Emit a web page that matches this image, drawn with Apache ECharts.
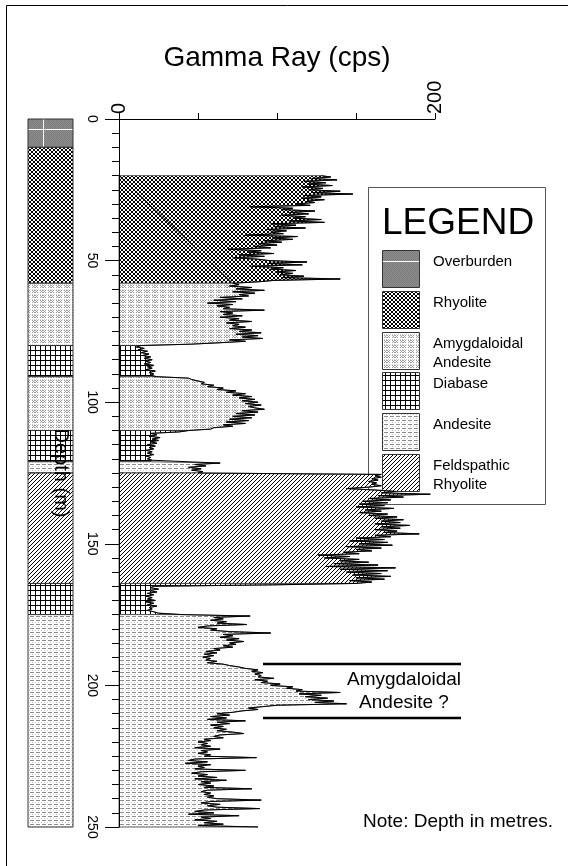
<!DOCTYPE html>
<html>
<head>
<meta charset="utf-8">
<title>Gamma Ray Log</title>
<script src="https://cdn.jsdelivr.net/npm/echarts@6/dist/echarts.min.js"></script>
<style>
  html, body { margin: 0; padding: 0; background: #fff; }
  #chart { width: 568px; height: 866px; }
</style>
</head>
<body>
<div id="chart"></div>
<script>
// Gamma-ray log (cps), one reading every 0.5 m from 20 m down to 250 m.
const logTop = 20;
const logStep = 0.5;
const gammaCps = [
  128,134,122,138,117,131,119,135,116,129, // 20 m
  120,140,123,148,118,128,116,130,119,124, // 25 m
  112,121, 83,110,104,124,108,120,103,118, // 30 m
  110,128,108,130, 96,112, 98,118, 94,106, // 35 m
   96,104, 80,113, 97,110, 92,103, 88,100, // 40 m
   86, 96, 69, 90, 82, 98, 76, 92, 72, 88, // 45 m
   95,119, 94,116, 84,104, 96,112, 99,110, // 50 m
  102,117,104,140, 98, 88, 72, 76, 70, 84, // 55 m
   74, 92, 72, 86, 76, 82, 64, 78, 60, 74, // 60 m
   56, 72, 62, 70, 66, 92, 64, 72, 66, 78, // 65 m
   64, 76, 70, 84, 68, 76, 72, 80, 70, 84, // 70 m
   76, 90, 74, 88, 78, 91, 70, 80, 64, 46, // 75 m
   14, 11, 16, 12, 18, 14, 19, 15, 20, 16, // 80 m
   21, 17, 20, 16, 22, 18, 21, 17, 23, 19, // 85 m
   22, 20, 24, 44, 46, 50, 54, 52, 60, 56, // 90 m
   66, 62, 74, 68, 80, 72, 84, 76, 86, 78, // 95 m
   88, 80, 90, 82, 86, 92, 78, 88, 74, 86, // 100 m
   72, 84, 70, 82, 68, 80, 66, 72, 60, 58, // 105 m
   44, 38, 20, 24, 19, 26, 21, 25, 20, 24, // 110 m
   18, 23, 19, 22, 17, 21, 18, 22, 17, 20, // 115 m
   18, 21, 20, 64, 48, 55, 44, 52, 46, 53, // 120 m
   50,166,162,166,160,164,158,163,160,166, // 125 m
  158,144,162,175,166,197,164,180,158,172, // 130 m
  154,170,152,168,150,174,156,166,152,170, // 135 m
  158,176,162,180,166,178,162,184,166,178, // 140 m
  162,176,168,190,162,172,150,168,146,170, // 145 m
  152,173,144,166,150,160,142,152,126,146, // 150 m
  130,152,140,158,136,164,131,175,140,170, // 155 m
  144,166,148,172,150,168,146,160,150, 97, // 160 m
   22, 20, 25, 19, 24, 18, 22, 17, 21, 18, // 165 m
   23, 17, 22, 18, 24, 19, 21, 18, 22, 25, // 170 m
   40, 83, 60, 66, 58, 68, 62, 81, 56, 50, // 175 m
   62, 58, 70, 96, 66, 72, 64, 76, 68, 79, // 180 m
   70, 74, 66, 72, 60, 64, 55, 62, 54, 60, // 185 m
   53, 58, 55, 62, 56, 66, 70, 76, 80, 88, // 190 m
   84, 91, 86, 90, 88, 98, 86, 94, 90,102, // 195 m
   96,110,106,116,112,140,114,128,118,132, // 200 m
  120,136,124,144,100, 91, 82, 88, 78, 72, // 205 m
   62, 70, 58, 68, 56, 80, 62, 70, 58, 66, // 210 m
   60, 68, 62, 72, 79, 64, 60, 66, 54, 58, // 215 m
   50, 56, 52, 58, 48, 64, 52, 56, 50, 58, // 220 m
   54, 87, 48, 44, 56, 42, 58, 50, 54, 48, // 225 m
   80, 52, 46, 56, 50, 62, 48, 68, 52, 58, // 230 m
   50, 60, 54, 84, 56, 52, 58, 54, 60, 56, // 235 m
   62, 90, 58, 52, 64, 56, 62, 89, 54, 48, // 240 m
   60, 44, 76, 52, 58, 48, 62, 54, 66, 50, // 245 m
   88                                      // 250 m
];

// Lithology
const unitNames = ['Overburden', 'Rhyolite', 'Amygdaloidal\nAndesite', 'Diabase', 'Andesite', 'Feldspathic\nRhyolite'];
const intervalTop    = [0, 10, 58, 80,  91, 110, 121, 125, 164, 175];
const intervalBottom = [10, 58, 80, 91, 110, 121, 125, 164, 175, 250];
const intervalUnit   = [0, 1, 2, 3, 2, 3, 4, 5, 3, 4];

// Gamma-axis values that carry a label
const gammaLabels = [0, 200];

const FONT = '"Liberation Sans", Arial, Helvetica, sans-serif';

// ---- fill patterns -------------------------------------------------------
function tile(w, h, paint) {
  const c = document.createElement('canvas');
  c.width = w; c.height = h;
  const g = c.getContext('2d');
  g.fillStyle = '#fff';
  g.fillRect(0, 0, w, h);
  paint(g, w, h);
  return { image: c, repeat: 'repeat' };
}
function dot(g, color, x, y, w, h) {
  g.fillStyle = color;
  g.fillRect(x, y, w || 1, h || 1);
}

const unitFills = [
  // Overburden: dithered grey with a sparse white seam
  tile(132, 132, (g, w, h) => {
    dot(g, '#8e8e8e', 0, 0, w, h);
    for (let y = 0; y < h; y++) for (let x = (y % 2); x < w; x += 2) dot(g, '#7c7c7c', x, y);
    dot(g, '#fff', 0, 129, w, 1);
    dot(g, '#fff', 43, 0, 1, h);
  }),
  // Rhyolite: tight black cross-hatch
  tile(4, 4, (g) => {
    for (let i = 0; i < 4; i++) { dot(g, '#000', i, i); dot(g, '#000', 3 - i, i); }
  }),
  // Amygdaloidal andesite: paired grey x-marks
  tile(8, 5, (g) => {
    [[0,0],[2,0],[1,1],[0,2],[2,2],[3,0],[5,0],[4,1],[3,2],[5,2]].forEach(([x, y]) => dot(g, '#9a9a9a', x, y));
    [0, 2, 4, 6].forEach(x => dot(g, '#d0d0d0', x, 4));
  }),
  // Diabase: square black grid
  tile(5, 5, (g) => {
    dot(g, '#000', 0, 0, 5, 1);
    dot(g, '#000', 0, 0, 1, 5);
  }),
  // Andesite: light dashed rules
  tile(6, 4, (g) => {
    dot(g, '#8c8c8c', 0, 0, 4, 1);
    dot(g, '#c4c4c4', 2, 2);
    dot(g, '#c4c4c4', 5, 2);
  }),
  // Feldspathic rhyolite: diagonal hatching
  tile(4, 4, (g) => {
    for (let i = 0; i < 4; i++) dot(g, '#000', 3 - i, i);
  })
];

// ---- data helpers --------------------------------------------------------
const logPoints = gammaCps.map((g, i) => [g, logTop + i * logStep]);
const logBottom = logTop + (gammaCps.length - 1) * logStep;
function pointsBetween(top, bottom) {
  return logPoints.filter(p => p[1] >= top - 1e-6 && p[1] <= bottom + 1e-6);
}
const intervals = intervalTop.map((t, i) => [0, t, intervalBottom[i], intervalUnit[i]]);

// Rhyolite fill shows its closing edge as a thin diagonal
const closedOutlineUnits = [1];

// ---- legend + annotations (graphic layer, beneath the log) ----------------
const graphics = [
  { type: 'line', shape: { x1: 6.5, y1: 5.5, x2: 568, y2: 5.5 }, style: { stroke: '#000', lineWidth: 1 } },
  { type: 'line', shape: { x1: 6.5, y1: 5.5, x2: 6.5, y2: 866 }, style: { stroke: '#000', lineWidth: 1 } },
  { type: 'rect', shape: { x: 368.5, y: 187.5, width: 177, height: 317 },
    style: { fill: '#fff', stroke: '#555', lineWidth: 1 } },
  { type: 'text', style: { x: 382, y: 224, text: 'LEGEND', fontSize: 37, fontFamily: FONT,
    fill: '#000', align: 'left', verticalAlign: 'middle' } }
];
unitNames.forEach((name, i) => {
  const top = Math.round(250 + i * 40.8) + 0.5;
  graphics.push({ type: 'rect', shape: { x: 382.5, y: top, width: 37, height: 37 },
    style: { fill: unitFills[i], stroke: '#333', lineWidth: 1 } });
  graphics.push({ type: 'text', style: { x: 433, y: top + 1.5, text: name, fontSize: 15, fontFamily: FONT,
    lineHeight: 19, fill: '#000', align: 'left', verticalAlign: 'top' } });
});
graphics.push(
  { type: 'line', shape: { x1: 263, y1: 664, x2: 461, y2: 664 }, style: { stroke: '#000', lineWidth: 2.5 } },
  { type: 'line', shape: { x1: 263, y1: 718, x2: 461, y2: 718 }, style: { stroke: '#000', lineWidth: 2.5 } },
  { type: 'text', style: { x: 404, y: 680, text: 'Amygdaloidal', fontSize: 19, fontFamily: FONT,
    fill: '#000', align: 'center', verticalAlign: 'middle' } },
  { type: 'text', style: { x: 404, y: 703, text: 'Andesite ?', fontSize: 19, fontFamily: FONT,
    fill: '#000', align: 'center', verticalAlign: 'middle' } },
  { type: 'text', style: { x: 363, y: 822, text: 'Note: Depth in metres.', fontSize: 19, fontFamily: FONT,
    fill: '#000', align: 'left', verticalAlign: 'middle' } }
);

// ---- chart ---------------------------------------------------------------
const chart = echarts.init(document.getElementById('chart'), null, { renderer: 'canvas', width: 568, height: 866 });

const option = {
  animation: false,
  backgroundColor: '#fff',
  textStyle: { fontFamily: FONT },
  grid: [
    { left: 119, top: 119, width: 316, height: 708 },
    { left: 28, top: 119, width: 45, height: 708 }
  ],
  xAxis: [
    {
      gridIndex: 0, type: 'value', position: 'top', min: 0, max: 200, interval: 50,
      name: 'Gamma Ray (cps)', nameLocation: 'middle', nameGap: 38,
      nameTextStyle: { fontSize: 28, color: '#000', fontFamily: FONT },
      axisLine: { onZero: false, lineStyle: { color: '#000', width: 1 } },
      axisTick: { length: 6, lineStyle: { color: '#000', width: 1 } },
      axisLabel: {
        rotate: -90, fontSize: 20, margin: 5, color: '#000', fontFamily: FONT,
        formatter: v => (gammaLabels.indexOf(v) >= 0 ? String(v) : '')
      },
      splitLine: { show: false }
    },
    { gridIndex: 1, type: 'value', min: 0, max: 1, show: false }
  ],
  yAxis: [
    {
      gridIndex: 0, type: 'value', inverse: true, min: 0, max: 250, interval: 50, z: 10,
      name: 'Depth (m)', nameLocation: 'middle', nameRotate: -90, nameGap: 48,
      nameTextStyle: { fontSize: 20, color: '#000', fontFamily: FONT },
      axisLine: { onZero: false, lineStyle: { color: '#000', width: 1 } },
      axisTick: { length: 14, lineStyle: { color: '#000', width: 1 } },
      minorTick: { show: true, splitNumber: 10, length: 7, lineStyle: { color: '#000', width: 1 } },
      axisLabel: { rotate: -90, fontSize: 14, margin: 20, color: '#000', fontFamily: FONT },
      splitLine: { show: false },
      minorSplitLine: { show: false }
    },
    { gridIndex: 1, type: 'value', inverse: true, min: 0, max: 250, show: false }
  ],
  graphic: graphics,
  series: [
    // Lithology column
    {
      type: 'custom', xAxisIndex: 1, yAxisIndex: 1, silent: true,
      data: intervals,
      encode: { x: 0, y: 1 },
      renderItem: (params, api) => {
        const top = api.value(1), bottom = api.value(2), unit = api.value(3);
        const a = api.coord([0, top]);
        const b = api.coord([1, bottom]);
        return {
          type: 'rect',
          shape: { x: a[0], y: a[1], width: b[0] - a[0], height: b[1] - a[1] },
          style: { fill: unitFills[unit], stroke: '#333', lineWidth: 1 }
        };
      }
    },
    // Log fill, patterned by lithology
    {
      type: 'custom', xAxisIndex: 0, yAxisIndex: 0, silent: true,
      data: intervals,
      encode: { x: 0, y: 1 },
      renderItem: (params, api) => {
        const top = Math.max(api.value(1), logTop);
        const bottom = Math.min(api.value(2), logBottom);
        const unit = api.value(3);
        if (bottom <= top) return null;
        const pts = pointsBetween(top, bottom);
        if (!pts.length) return null;
        const start = api.coord([0, top]);
        const poly = [start].concat(pts.map(p => api.coord(p)), [api.coord([0, bottom])]);
        const children = [{
          type: 'polygon', shape: { points: poly },
          style: { fill: unitFills[unit], stroke: '#3a3a3a', lineWidth: 0.8 }
        }];
        if (closedOutlineUnits.indexOf(unit) >= 0) {
          const end = api.coord(pts[pts.length - 1]);
          children.push({ type: 'line', shape: { x1: start[0], y1: start[1], x2: end[0], y2: end[1] },
            style: { stroke: '#000', lineWidth: 0.8 } });
        }
        return { type: 'group', children };
      }
    },
    // Gamma-ray curve
    {
      type: 'line', xAxisIndex: 0, yAxisIndex: 0, silent: true, z: 5,
      data: logPoints, showSymbol: false, symbol: 'none',
      lineStyle: { color: '#000', width: 1 }
    }
  ]
};
chart.setOption(option);
</script>
</body>
</html>
